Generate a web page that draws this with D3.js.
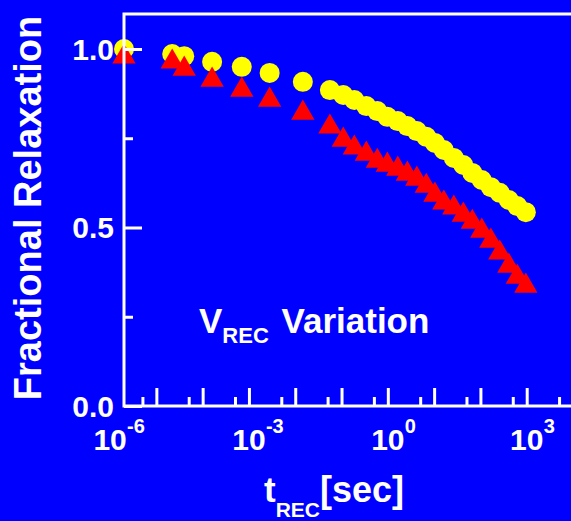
<!DOCTYPE html>
<html><head><meta charset="utf-8">
<script src="https://cdn.jsdelivr.net/npm/d3@7"></script>
<style>html,body{margin:0;padding:0;background:#0000FF;}svg{display:block;}</style>
</head><body><svg id="c" width="571" height="521"></svg>
<script>
const times = [2e-6, 2.2e-5, 4.0e-5, 1.6e-4, 7.0e-4, 2.8e-3, 0.0146, 0.056, 0.109, 0.189, 0.343, 0.593, 0.975, 1.64, 2.64, 4.23, 6.78, 10.4, 16.2, 26.6, 42.7, 66.9, 107, 168, 262, 411, 627, 957];
const yellowValues = [1.0, 0.986, 0.980, 0.964, 0.950, 0.933, 0.908, 0.885, 0.871, 0.857, 0.840, 0.826, 0.810, 0.798, 0.784, 0.770, 0.754, 0.737, 0.717, 0.695, 0.675, 0.653, 0.633, 0.613, 0.597, 0.577, 0.560, 0.543];
const redValues = [0.978, 0.964, 0.944, 0.913, 0.885, 0.857, 0.821, 0.782, 0.745, 0.723, 0.706, 0.686, 0.675, 0.664, 0.650, 0.636, 0.616, 0.591, 0.569, 0.555, 0.535, 0.515, 0.490, 0.462, 0.429, 0.392, 0.361, 0.336];
const xMajorTicks = [1e-5, 1e-4, 1e-3, 1e-2, 1e-1, 1, 10, 100, 1000];
const xMinorTicks = [5e-6, 5e-5, 5e-4, 5e-3, 5e-2, 0.5, 5, 50, 500, 5000];
const xLabelTicks = [1e-6, 1e-3, 1, 1e3];
const xLabelExps = ["-6", "-3", "0", "3"];
const yMajorTicks = [0, 0.5, 1.0];
const yMinorTicks = [0.25, 0.75];
const yLabels = ["0.0", "0.5", "1.0"];

const FONT = "Arial, 'Liberation Sans', Helvetica, sans-serif";
const svg = d3.select("#c");
svg.append("rect").attr("width", 571).attr("height", 521).attr("fill", "#0000FF");

const L = 124, R = 573, T = 13.3, B = 406;
const x = d3.scaleLog().domain([2e-6, 1e4]).range([L, R]);
const y = d3.scaleLinear().domain([0, 1.1]).range([B, T]);

// points
svg.append("g").selectAll("circle").data(times).join("circle")
  .attr("cx", d => x(d)).attr("cy", (d, i) => y(yellowValues[i]))
  .attr("r", 10).attr("fill", "#FFFF00");
const tri = d3.symbol().type(d3.symbolTriangle).size(235);
svg.append("g").selectAll("path").data(times).join("path")
  .attr("transform", (d, i) => `translate(${x(d)},${y(redValues[i])})`)
  .attr("d", tri).attr("fill", "#FF0000");

// frame
svg.append("rect").attr("x", L).attr("y", 14).attr("width", R - L).attr("height", B - 14)
  .attr("fill", "none").attr("stroke", "#fff").attr("stroke-width", 3);

function styleAxis(g) {
  g.select(".domain").remove();
  g.selectAll("line").attr("stroke", "#fff").attr("stroke-width", 3);
  g.selectAll("text").remove();
}
svg.append("g").attr("transform", `translate(0,${B})`)
  .call(d3.axisBottom(x).tickValues(xMajorTicks).tickSize(-18).tickFormat("")).call(styleAxis);
svg.append("g").attr("transform", `translate(0,${B})`)
  .call(d3.axisBottom(x).tickValues(xMinorTicks).tickSize(-9).tickFormat("")).call(styleAxis);
svg.append("g").attr("transform", `translate(${L},0)`)
  .call(d3.axisLeft(y).tickValues(yMajorTicks).tickSize(-18).tickFormat("")).call(styleAxis);
svg.append("g").attr("transform", `translate(${L},0)`)
  .call(d3.axisLeft(y).tickValues(yMinorTicks).tickSize(-9).tickFormat("")).call(styleAxis);

// y tick labels
svg.append("g").selectAll("text").data(yMajorTicks).join("text")
  .attr("x", 114).attr("y", d => y(d) + 10.5)
  .attr("text-anchor", "end").attr("fill", "#fff")
  .attr("font-family", FONT).attr("font-weight", "bold").attr("font-size", 30)
  .text((d, i) => yLabels[i]);

// x tick labels
const xl = svg.append("g");
xLabelTicks.forEach((v, i) => {
  const cx = x(v);
  xl.append("text").attr("x", cx).attr("y", 450).attr("text-anchor", "middle")
    .attr("fill", "#fff").attr("font-family", FONT).attr("font-weight", "bold").attr("font-size", 30)
    .text("10");
  xl.append("text").attr("x", cx + 17).attr("y", 433).attr("text-anchor", "start")
    .attr("fill", "#fff").attr("font-family", FONT).attr("font-weight", "bold").attr("font-size", 20)
    .text(xLabelExps[i]);
});

// x title
const xt = svg.append("text").attr("x", 264).attr("y", 502).attr("fill", "#fff")
  .attr("font-family", FONT).attr("font-weight", "bold").attr("font-size", 35);
xt.append("tspan").text("t");
xt.append("tspan").attr("dy", 15).attr("font-size", 21).text("REC");
xt.append("tspan").attr("dy", -15).attr("font-size", 36).text("[sec]");

// y title
svg.append("text").attr("transform", "translate(41,208) rotate(-90)")
  .attr("text-anchor", "middle").attr("fill", "#fff")
  .attr("font-family", FONT).attr("font-weight", "bold").attr("font-size", 38)
  .text("Fractional Relaxation");

// annotation
const an = svg.append("text").attr("x", 199).attr("y", 333).attr("fill", "#fff")
  .attr("font-family", FONT).attr("font-weight", "bold").attr("font-size", 35);
an.append("tspan").text("V");
an.append("tspan").attr("dy", 10).attr("font-size", 22).text("REC");
an.append("tspan").attr("dy", -10).attr("dx", 3).text(" Variation");
</script></body></html>
